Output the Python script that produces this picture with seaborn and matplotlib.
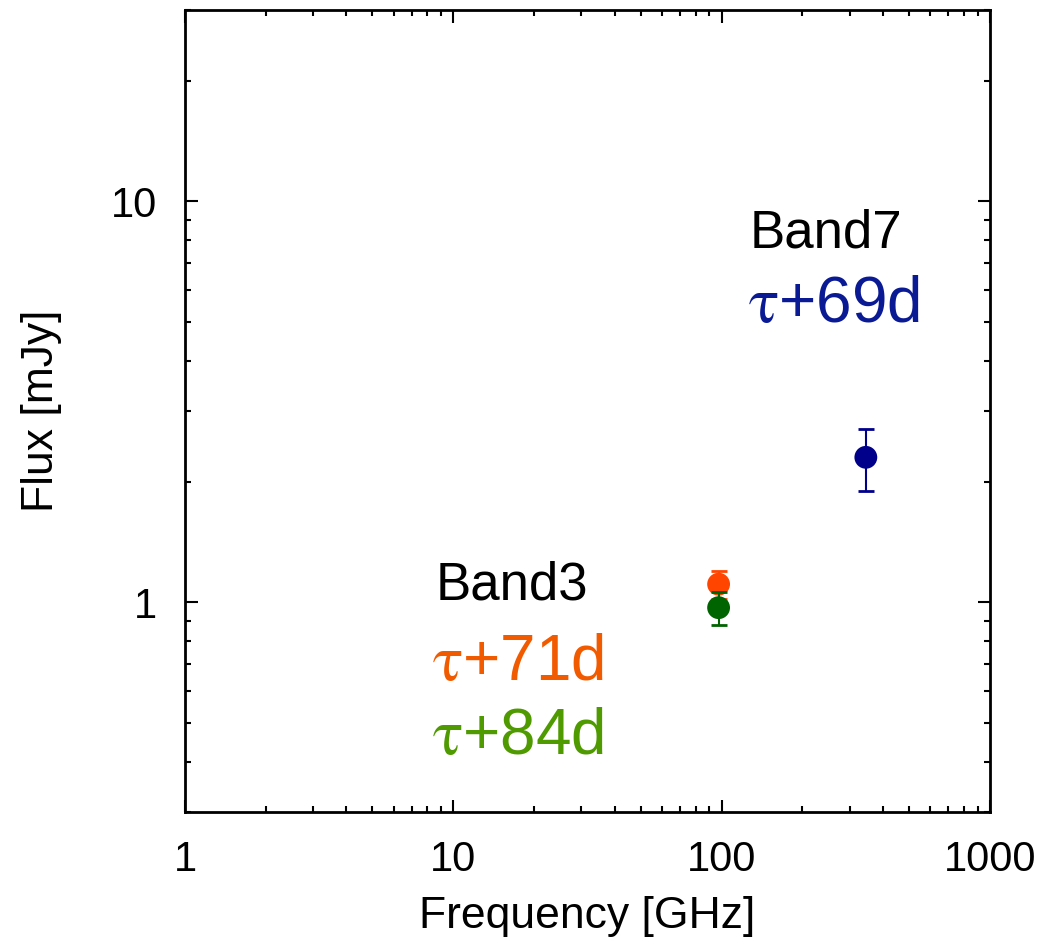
from matplotlib import pyplot as plt
from matplotlib.ticker import LogLocator, FixedLocator, FixedFormatter
import pandas as pd
import seaborn as sns

# ALMA flux points
bands = ["Band3", "Band3", "Band7"]
epochs = ["τ+71d", "τ+84d", "τ+69d"]
freq_ghz = [97.5, 97.5, 345.0]
flux_mjy = [1.11, 0.97, 2.30]
flux_err = [0.09, 0.09, 0.40]
point_colors = ["#FF4500", "#006400", "#00008B"]
label_colors = ["#F25A00", "#4E9A00", "#0A1A94"]

x_ticks = [1, 10, 100, 1000]
x_tick_labels = ["1", "10", "100", "1000"]
y_ticks = [1, 10]
y_tick_labels = ["1", "10"]

df = pd.DataFrame({"band": bands, "epoch": epochs, "freq": freq_ghz,
                   "flux": flux_mjy, "err": flux_err})

sns.set_style("white")
plt.rcParams["font.family"] = ["Liberation Sans", "DejaVu Sans"]
plt.rcParams["mathtext.fontset"] = "stix"
plt.rcParams["text.color"] = "black"
plt.rcParams["axes.labelcolor"] = "black"

fig = plt.figure(figsize=(10.48, 9.46), dpi=100)
ax = fig.add_axes([0.1765, 0.1416, 0.768, 0.8478])

for i, row in df.iterrows():
    ax.errorbar(row["freq"], row["flux"], yerr=row["err"], fmt="none",
                ecolor=point_colors[i], elinewidth=1.5, capsize=5.5,
                capthick=2, zorder=2 + 2 * i)
    sns.scatterplot(x=[row["freq"]], y=[row["flux"]], ax=ax,
                    color=point_colors[i], s=270, edgecolor="none",
                    zorder=3 + 2 * i, legend=False)

ax.set_xscale("log")
ax.set_yscale("log")
ax.set_xlim(1, 1000)
ax.set_ylim(0.3, 30)

ax.xaxis.set_major_locator(FixedLocator(x_ticks))
ax.xaxis.set_major_formatter(FixedFormatter(x_tick_labels))
ax.yaxis.set_major_locator(FixedLocator(y_ticks))
ax.yaxis.set_major_formatter(FixedFormatter(y_tick_labels))
ax.xaxis.set_minor_locator(LogLocator(base=10, subs=range(2, 10)))
ax.yaxis.set_minor_locator(LogLocator(base=10, subs=range(2, 10)))
ax.tick_params(which="both", direction="in", top=True, right=True,
               bottom=True, left=True, width=1.5, colors="black")
ax.tick_params(which="major", length=9, labelsize=30, pad=20)
ax.tick_params(which="minor", length=4.5, labelbottom=False, labelleft=False)

for s in ax.spines.values():
    s.set_linewidth(2)
    s.set_color("black")

ax.set_xlabel("Frequency [GHz]", fontsize=32, labelpad=12)
ax.set_ylabel("Flux [mJy]", fontsize=32, labelpad=35)

# band annotations
ax.text(0.311, 0.283, "Band3", transform=ax.transAxes, fontsize=38,
        va="center", ha="left", color="black")
ax.text(0.307, 0.186, r"$\mathrm{\tau}$+71d", transform=ax.transAxes,
        fontsize=46, va="center", ha="left", color=label_colors[0])
ax.text(0.307, 0.094, r"$\mathrm{\tau}$+84d", transform=ax.transAxes,
        fontsize=46, va="center", ha="left", color=label_colors[1])
ax.text(0.702, 0.721, "Band7", transform=ax.transAxes, fontsize=38,
        va="center", ha="left", color="black")
ax.text(0.699, 0.632, r"$\mathrm{\tau}$+69d", transform=ax.transAxes,
        fontsize=46, va="center", ha="left", color=label_colors[2])

fig.savefig("out.png", dpi=100)
